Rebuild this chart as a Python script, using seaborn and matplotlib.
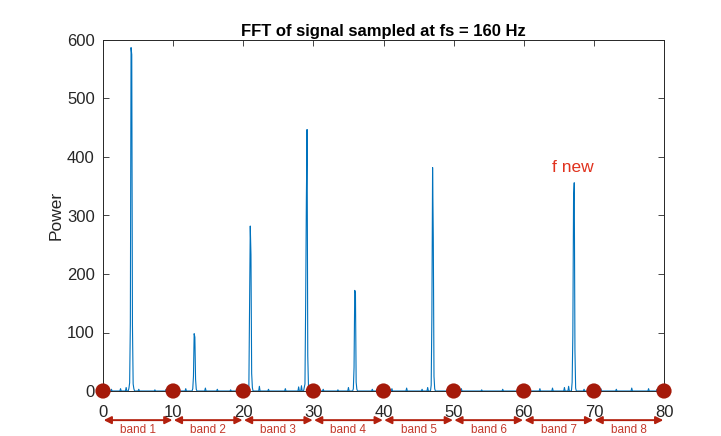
import numpy as np
import pandas as pd
import matplotlib
matplotlib.use("Agg")
import matplotlib.pyplot as plt
import matplotlib.transforms as mtransforms
import seaborn as sns

# Spectrum bins (Hz, power); every bin not listed is zero
peak_freqs = [3.7, 3.8, 3.9, 4.0, 4.1, 4.2, 4.3, 4.4,
              12.8, 12.9, 13.0, 13.1, 13.2, 13.3,
              20.8, 20.9, 21.0, 21.1, 21.2, 21.3,
              28.7, 28.8, 28.9, 29.0, 29.1, 29.2, 29.3,
              35.7, 35.8, 35.9, 36.0, 36.1, 36.2,
              46.8, 46.9, 47.0, 47.1, 47.2, 47.3,
              66.9, 67.0, 67.1, 67.2, 67.3, 67.4]
peak_power = [5, 14, 115, 587, 575, 112, 12, 4,
              4, 25, 98, 92, 20, 3,
              5, 140, 282, 233, 30, 6,
              6, 12, 150, 328, 447, 60, 8,
              4, 40, 172, 168, 15, 3,
              10, 130, 382, 263, 25, 4,
              15, 95, 325, 356, 70, 5]
noise_freqs = [1.2, 2.5, 3.3, 5.1, 7.4, 9.0, 11.8, 14.6, 16.3, 18.2, 19.5,
               22.3, 23.6, 26.0, 27.9, 28.3, 31.4, 33.5, 35.0, 38.4, 41.2,
               43.3, 45.5, 46.3, 49.2, 51.1, 54.0, 57.0, 59.2, 60.5, 62.3,
               64.1, 65.8, 66.4, 68.6, 71.0, 73.2, 75.4, 77.8, 79.0]
noise_power = [3, 4, 6, 3, 2, 3, 4, 5, 3, 2, 6,
               8, 3, 4, 7, 9, 3, 2, 6, 3, 4,
               5, 3, 6, 3, 4, 2, 3, 5, 3, 4,
               5, 6, 8, 3, 4, 3, 5, 4, 3]

band_edges = [0, 10, 20, 30, 40, 50, 60, 70, 80]
band_labels = ["band 1", "band 2", "band 3", "band 4",
               "band 5", "band 6", "band 7", "band 8"]
y_ticks = [0, 100, 200, 300, 400, 500, 600]

freq = np.round(np.arange(0, 800 + 1) * 0.1, 1)
power = np.zeros_like(freq)
for f, p in zip(peak_freqs + noise_freqs, peak_power + noise_power):
    power[int(round(f * 10))] = p
spec = pd.DataFrame({"freq": freq, "power": power})

sns.set_theme(style="ticks")
plt.rcParams["font.family"] = ["Liberation Sans", "DejaVu Sans"]

fig = plt.figure(figsize=(7.21, 4.36), dpi=100)
ax = fig.add_axes([103 / 721, 45 / 436, 561 / 721, 351 / 436])

sns.lineplot(data=spec, x="freq", y="power", ax=ax, color="#0072BD",
             linewidth=0.8, estimator=None)
sns.scatterplot(x=band_edges, y=[0] * len(band_edges), ax=ax, s=120,
                color="#a51a0a", edgecolor="none", clip_on=False, zorder=5)

ax.set_xlim(0, 80)
ax.set_ylim(0, 600)
ax.set_xticks(band_edges)
ax.set_yticks(y_ticks)
ax.tick_params(axis="both", direction="in", top=True, right=True,
               labelsize=12, colors="#262626", length=4, width=0.6)
ax.tick_params(axis="x", pad=10)
ax.tick_params(axis="y", pad=6)
for s in ax.spines.values():
    s.set_linewidth(0.7)
    s.set_color("#262626")
ax.set_xlabel("")
ax.set_ylabel("Power", fontsize=12.5, color="#262626", labelpad=2)
ax.set_title("FFT of signal sampled at fs = 160 Hz", fontsize=12,
             fontweight="bold", color="black", pad=3)

ax.text(67.0, 382, "f new", color="#e0321e", fontsize=12.5,
        ha="center", va="center")

trans = mtransforms.blended_transform_factory(ax.transData, ax.transAxes)
for i, lab in enumerate(band_labels):
    a, b = band_edges[i], band_edges[i + 1]
    ax.annotate("", xy=(b - 0.1, -0.083), xytext=(a + 0.1, -0.083),
                xycoords=trans, textcoords=trans,
                arrowprops=dict(arrowstyle="<|-|>", color="#b3200e",
                                lw=1.4, mutation_scale=11,
                                shrinkA=0, shrinkB=0),
                annotation_clip=False)
    ax.text((a + b) / 2, -0.111, lab, transform=trans, ha="center",
            va="center", fontsize=8.5, color="#c4392b", clip_on=False)

fig.savefig("out.png", dpi=100, facecolor="white")
